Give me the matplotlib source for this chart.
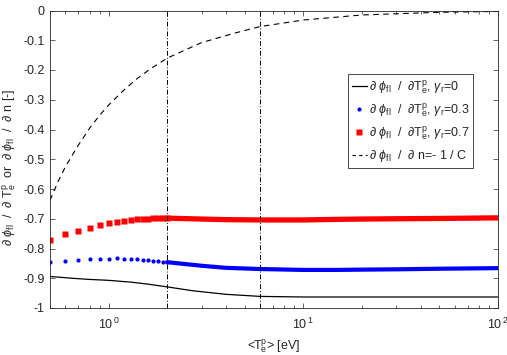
import matplotlib
matplotlib.use("Agg")
import matplotlib.pyplot as plt
from matplotlib.lines import Line2D

plt.rcParams['font.family'] = ['Liberation Sans', 'DejaVu Sans']
plt.rcParams['mathtext.fontset'] = 'custom'
plt.rcParams['mathtext.rm'] = 'Liberation Sans'
plt.rcParams['mathtext.it'] = 'Liberation Sans:italic'
plt.rcParams['mathtext.bf'] = 'Liberation Sans:bold'

# ---------------- data ----------------
T_fine = [0.5, 0.6, 0.7, 0.8, 0.9, 1.0, 1.1, 1.2, 1.3, 1.4, 1.5, 1.6, 1.7, 1.8, 1.9, 2.0]
red_fine = [-0.771, -0.752, -0.740, -0.730, -0.722, -0.715, -0.710, -0.707,
            -0.704, -0.702, -0.701, -0.700, -0.699, -0.699, -0.698, -0.698]
blue_fine = [-0.844, -0.842, -0.839, -0.836, -0.835, -0.834, -0.833, -0.834,
             -0.835, -0.836, -0.838, -0.840, -0.841, -0.842, -0.844, -0.846]

T_band = [2.0, 3.0, 4.0, 6.0, 10, 15, 20, 30, 50, 100]
red_band = [-0.698, -0.701, -0.703, -0.704, -0.704, -0.702, -0.701, -0.700, -0.699, -0.697]
blue_band = [-0.846, -0.858, -0.865, -0.869, -0.872, -0.872, -0.871, -0.870, -0.868, -0.866]

T_black = [0.5, 0.65, 0.8, 1.0, 1.3, 1.6, 2.0, 2.7, 4.0, 6.0, 10, 30, 100]
black_v = [-0.894, -0.900, -0.904, -0.907, -0.913, -0.920, -0.929, -0.942,
           -0.954, -0.961, -0.963, -0.963, -0.963]

T_dash = [0.5, 0.55, 0.6, 0.7, 0.8, 0.9, 1.0, 1.2, 1.4, 1.65, 2.0, 3.0, 4.5, 6.0, 10, 20, 50, 100]
dash_v = [-0.638, -0.575, -0.525, -0.452, -0.395, -0.352, -0.318, -0.267, -0.229,
          -0.195, -0.160, -0.108, -0.075, -0.054, -0.032, -0.015, -0.006, -0.003]

vlines_T = [2, 6]
yticks = [0, -0.1, -0.2, -0.3, -0.4, -0.5, -0.6, -0.7, -0.8, -0.9, -1]
ytick_labels = ['0', '-0.1', '-0.2', '-0.3', '-0.4', '-0.5', '-0.6', '-0.7', '-0.8', '-0.9', '-1']
xticks = [1, 10, 100]
xtick_labels = [r'10$^{\,0}$', r'10$^{\,1}$', r'10$^{\,2}$']

labels = [
    r'$\partial\ \phi_{\mathrm{fl}}\ \ /\ \ \partial\mathrm{T}_{\mathrm{e}}^{\mathrm{p}}$, $\gamma_{\mathrm{r}}$=0',
    r'$\partial\ \phi_{\mathrm{fl}}\ \ /\ \ \partial\mathrm{T}_{\mathrm{e}}^{\mathrm{p}}$, $\gamma_{\mathrm{r}}$=0.3',
    r'$\partial\ \phi_{\mathrm{fl}}\ \ /\ \ \partial\mathrm{T}_{\mathrm{e}}^{\mathrm{p}}$, $\gamma_{\mathrm{r}}$=0.7',
    r'$\partial\ \phi_{\mathrm{fl}}\ \ /\ \ \partial\ $n=- 1 / C',
]

TXT = '#262626'
FS = 9.0

# ---------------- figure ----------------
fig = plt.figure(figsize=(5.07, 3.55), dpi=100)
ax = fig.add_axes([50 / 507, 1 - 308 / 355, 448 / 507, 297.5 / 355])

ax.plot(T_black, black_v, color='k', lw=0.9)
ax.plot(T_fine, blue_fine, ls='none', marker='o', ms=3.0, color='#0000ff', mec='none')
ax.plot(T_band, blue_band, ls='-', lw=3.0, color='#0000ff', solid_capstyle='round')
ax.plot(T_fine, red_fine, ls='none', marker='s', ms=3.8, color='#ff0000', mec='none')
ax.plot(T_band, red_band, ls='-', lw=3.8, color='#ff0000', solid_capstyle='butt')
ax.plot(T_dash, dash_v, color='k', lw=0.8, ls=(0, (5, 4)))
for v in vlines_T:
    ax.axvline(v, color='k', lw=0.7, ls=(0, (5, 2, 1, 2)))

ax.set_xscale('log')
ax.set_xlim(0.5, 100)
ax.set_ylim(-1, 0)
ax.set_yticks(yticks)
ax.set_yticklabels(ytick_labels)
ax.set_xticks(xticks)
ax.set_xticklabels(xtick_labels)

ax.tick_params(which='both', direction='in', top=True, right=True,
               colors=TXT, labelsize=FS, width=0.5)
ax.tick_params(which='major', length=3.6)
ax.tick_params(which='minor', length=2.0)
ax.tick_params(axis='x', pad=6)
ax.tick_params(axis='y', pad=4)
for s in ax.spines.values():
    s.set_color(TXT)
    s.set_linewidth(0.6)

ax.set_xlabel(r'<T$_{\mathrm{e}}^{\mathrm{p}}$> [eV]', fontsize=FS, color=TXT, labelpad=4)
ax.set_ylabel(r'$\partial\ \phi_{\mathrm{fl}}\ \ /\ \ \partial\ \mathrm{T}_{\mathrm{e}}^{\mathrm{p}}$  or  '
              r'$\partial\ \phi_{\mathrm{fl}}\ \ /\ \ \partial\ $n [-]', fontsize=FS, color=TXT)
ax.yaxis.set_label_coords(-0.071, 0.474)

handles = [
    Line2D([], [], color='k', lw=0.9),
    Line2D([], [], ls='none', marker='o', ms=3.0, color='#0000ff', mec='none'),
    Line2D([], [], ls='none', marker='s', ms=3.8, color='#ff0000', mec='none'),
    Line2D([], [], color='k', lw=0.8, ls=(0, (3, 3))),
]
leg = ax.legend(handles, labels, loc='upper left', bbox_to_anchor=(0.665, 0.785),
                fontsize=FS, fancybox=False, framealpha=1, edgecolor=TXT,
                handlelength=1.2, handletextpad=0.2, labelspacing=0.45,
                borderpad=0.3, borderaxespad=0, numpoints=1)
leg.get_frame().set_linewidth(0.6)
for t in leg.get_texts():
    t.set_color(TXT)

fig.savefig('out.png', dpi=100)
